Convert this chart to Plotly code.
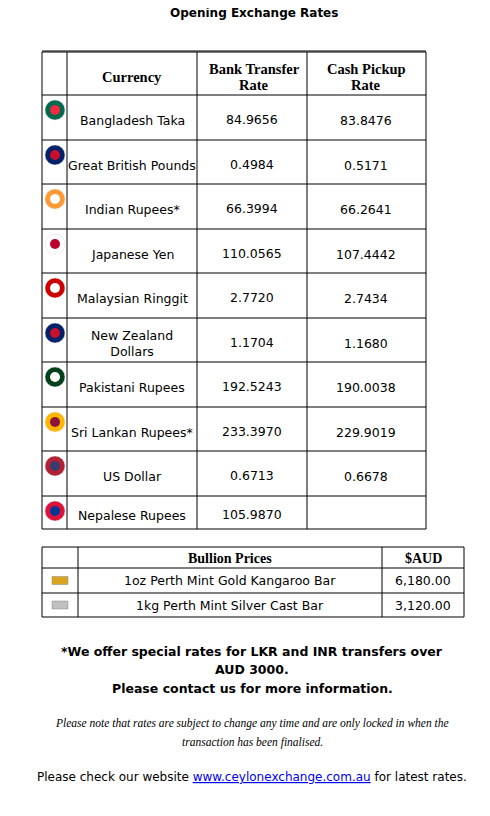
import plotly.graph_objects as go

currencies = ["Bangladesh Taka", "Great British Pounds", "Indian Rupees*", "Japanese Yen",
              "Malaysian Ringgit", "New Zealand<br>Dollars", "Pakistani Rupees",
              "Sri Lankan Rupees*", "US Dollar", "Nepalese Rupees"]
bank_rates = ["84.9656", "0.4984", "66.3994", "110.0565", "2.7720", "1.1704",
              "192.5243", "233.3970", "0.6713", "105.9870"]
cash_rates = ["83.8476", "0.5171", "66.2641", "107.4442", "2.7434", "1.1680",
              "190.0038", "229.9019", "0.6678", ""]
flag_colors = [("#006a4e", "#f42a41"), ("#012169", "#c8102e"), ("#ff9933", "#ffffff"),
               ("#ffffff", "#bc002d"), ("#cc0001", "#ffffff"), ("#012169", "#c8102e"),
               ("#01411c", "#ffffff"), ("#ffb700", "#8d153a"), ("#b22234", "#3c3b6e"),
               ("#dc143c", "#003893")]
bullion_items = ["1oz Perth Mint Gold Kangaroo Bar", "1kg Perth Mint Silver Cast Bar"]
bullion_prices = ["6,180.00", "3,120.00"]
bullion_colors = ["#d9a520", "#c0c0c0"]

W, H = 490, 816
OFF = 8
fig = go.Figure()
shapes, ann = [], []
LC = dict(color="black", width=1)

def line(x0, y0, x1, y1):
    shapes.append(dict(type="line", x0=x0, y0=y0, x1=x1, y1=y1, line=LC))

def text(x, y, t, size=12, fam="DejaVu Sans", color="black", anchor="center"):
    ann.append(dict(x=x, y=y, text=t, showarrow=False, xanchor=anchor, yanchor="middle",
                    font=dict(size=size, family=fam, color=color)))

text(254, 13, "<b>Opening Exchange Rates</b>", 12)

cols = [42, 67, 197, 307, 426]
rows = [52, 95, 140, 184, 229, 273, 318, 362, 407, 451, 496, 529]
for x in cols:
    line(x, rows[0], x, rows[-1])
for y in rows:
    line(cols[0], y, cols[-1], y)
line(cols[0], rows[0] - 1, cols[-1], rows[0] - 1)
SER = "Liberation Serif"
text(132, 77, "<b>Currency</b>", 14.5, SER)
text(254, 77, "<b>Bank Transfer</b>", 14.5, SER)
text(254, 77, "<b>Bank Transfer</b>", 14.5, SER)
ann.pop()
ann.pop()
text(254, 69, "<b>Bank Transfer</b>", 14.5, SER)
text(254, 85, "<b>Rate</b>", 14.5, SER)
text(366, 69, "<b>Cash Pickup</b>", 14.5, SER)
text(366, 85, "<b>Rate</b>", 14.5, SER)
for i, c in enumerate(currencies):
    top, bot = rows[i + 1], rows[i + 2]
    cy = (top + bot) / 2 + 3
    text(132, cy, c, 12.5)
    text(252, cy - 1, bank_rates[i], 12.5)
    text(366, cy, cash_rates[i], 12.5)
    o, inner = flag_colors[i]
    fy = top + 15
    shapes.append(dict(type="circle", x0=45, x1=65, y0=fy - 10, y1=fy + 10,
                       fillcolor=o, line=dict(color="#ddd", width=0.5)))
    shapes.append(dict(type="circle", x0=50, x1=60, y0=fy - 5, y1=fy + 5,
                       fillcolor=inner, line=dict(width=0)))

bc = [42, 78, 382, 464]
br = [547, 568, 593, 617]
for x in bc:
    line(x, br[0], x, br[-1])
for y in br:
    line(bc[0], y, bc[-1], y)
text(230, 558, "<b>Bullion Prices</b>", 14, SER)
text(423, 558, "<b>$AUD</b>", 14, SER)
for i, item in enumerate(bullion_items):
    cy = (br[i + 1] + br[i + 2]) / 2
    text(230, cy, item, 12.5)
    text(423, cy, bullion_prices[i], 12.5)
    shapes.append(dict(type="rect", x0=52, x1=68, y0=cy - 4, y1=cy + 4,
                       fillcolor=bullion_colors[i], line=dict(color="#888", width=0.5)))

text(252, 651, "<b>*We offer special rates for LKR and INR transfers over</b>", 12.5)
text(252, 669, "<b>AUD 3000.</b>", 12.5)
text(252, 688, "<b>Please contact us for more information.</b>", 12.5)
text(252, 723, "<i>Please note that rates are subject to change any time and are only locked in when the</i>", 11.5, SER)
text(252, 742, "<i>transaction has been finalised.</i>", 11.5, SER)
text(252, 777, 'Please check our website <span style="color:#0000ee"><u>www.ceylonexchange.com.au</u></span> for latest rates.', 12)

fig.update_layout(width=W, height=H, margin=dict(l=0, r=0, t=0, b=0),
                  paper_bgcolor="white", plot_bgcolor="white",
                  xaxis=dict(range=[OFF, W + OFF], visible=False, fixedrange=True),
                  yaxis=dict(range=[H + OFF, OFF], visible=False, fixedrange=True),
                  shapes=shapes, annotations=ann, showlegend=False)
fig.write_html("out.html", config={"displayModeBar": False})
